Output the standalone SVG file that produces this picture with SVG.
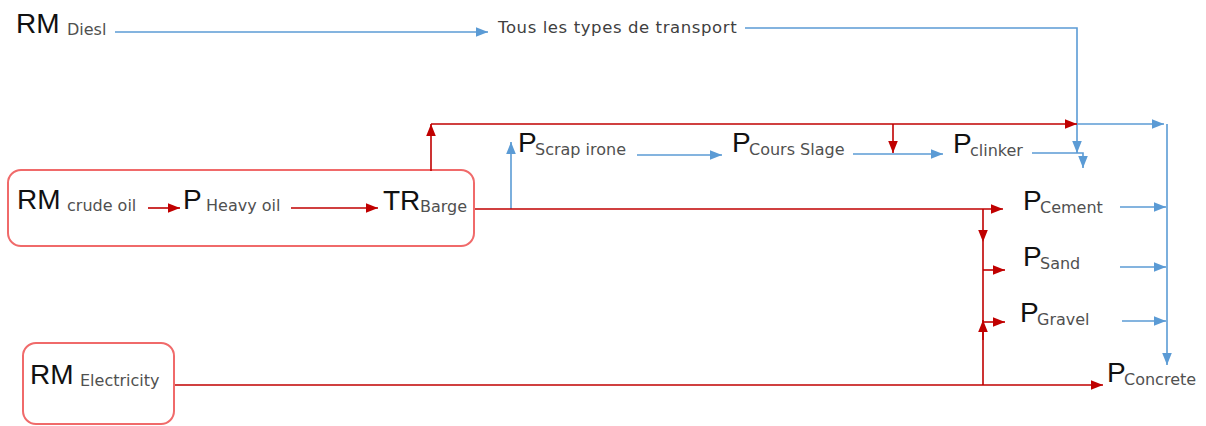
<svg xmlns="http://www.w3.org/2000/svg" width="1206" height="426" viewBox="0 0 1206 426">
<style>
.big{font-family:"Liberation Sans",Arial,sans-serif;font-size:28px;fill:#111}
.sub{font-family:"DejaVu Sans",sans-serif;font-size:16px;fill:#505050}
.lbl{font-family:"DejaVu Sans",sans-serif;font-size:16.5px;letter-spacing:0.6px;fill:#404040}
.box{fill:#fff;stroke:#f06a6a;stroke-width:2}
.b{fill:none;stroke:#5b9bd5;stroke-width:1.6}
.r{fill:none;stroke:#c00000;stroke-width:1.6}
.ba{marker-end:url(#ab)}
.ra{marker-end:url(#ar)}
</style>
<defs>
<marker id="ab" markerUnits="userSpaceOnUse" markerWidth="12" markerHeight="12" viewBox="0 0 10 10" refX="10" refY="5" orient="auto">
<path d="M0,1 L10,5 L0,9 Z" fill="#5b9bd5"/>
</marker>
<marker id="ar" markerUnits="userSpaceOnUse" markerWidth="12" markerHeight="12" viewBox="0 0 10 10" refX="10" refY="5" orient="auto">
<path d="M0,1 L10,5 L0,9 Z" fill="#c00000"/>
</marker>
</defs>
<g id="crude-group">
<rect class="box" x="8" y="170" width="466" height="76" rx="13"/>
<g id="rm-crude"><text class="big" x="17" y="209">RM</text><text class="sub" x="67" y="211">crude oil</text></g>
<g id="p-heavy"><text class="big" x="183" y="209">P</text><text class="sub" x="206" y="211">Heavy oil</text></g>
<g id="tr-barge"><text class="big" x="383" y="210">TR</text><text class="sub" x="420" y="212">Barge</text></g>
</g>
<g id="rm-electricity">
<rect class="box" x="23" y="343" width="151" height="81" rx="13"/>
<text class="big" x="30" y="384">RM</text><text class="sub" x="80" y="386">Electricity</text>
</g>
<g id="connectors">
<path class="b ba" d="M115,32 H488"/>
<path class="b ba" d="M745,28 H1077 V153"/>
<path class="b ba" d="M1077,124 H1164"/>
<path class="b ba" d="M1167,124 V365"/>
<path class="b ba" d="M511,209 V142"/>
<path class="b ba" d="M637,155 H722"/>
<path class="b ba" d="M853,154 H943"/>
<path class="b ba" d="M1032,153 H1083 V168"/>
<path class="b ba" d="M1120,207 H1166"/>
<path class="b ba" d="M1120,267 H1166"/>
<path class="b ba" d="M1122,321 H1166"/>
<path class="r ra" d="M431,171 V124"/>
<path class="r ra" d="M431,124 H1077"/>
<path class="r ra" d="M893,124 V153"/>
<path class="r ra" d="M148,208 H180"/>
<path class="r ra" d="M291,208 H378"/>
<path class="r ra" d="M475,209 H1003"/>
<path class="r ra" d="M983,209 V242"/>
<path class="r" d="M983,242 V385"/>
<path class="r ra" d="M983,270 H1005"/>
<path class="r ra" d="M983,322 H1005"/>
<path class="r ra" d="M983,340 V320"/>
<path class="r ra" d="M175,385 H1103"/>
</g>
<g id="rm-diesl"><text class="big" x="16" y="33">RM</text><text class="sub" x="67" y="35">Diesl</text></g>
<g id="transport"><text class="lbl" x="498" y="33">Tous les types de transport</text></g>
<g id="p-scrap"><text class="big" x="518" y="152">P</text><text class="sub" x="535" y="155">Scrap irone</text></g>
<g id="p-cours"><text class="big" x="732" y="152">P</text><text class="sub" x="749" y="155">Cours Slage</text></g>
<g id="p-clinker"><text class="big" x="953" y="153">P</text><text class="sub" x="970" y="156">clinker</text></g>
<g id="p-cement"><text class="big" x="1023" y="210">P</text><text class="sub" x="1040" y="213">Cement</text></g>
<g id="p-sand"><text class="big" x="1023" y="266">P</text><text class="sub" x="1040" y="269">Sand</text></g>
<g id="p-gravel"><text class="big" x="1020" y="322">P</text><text class="sub" x="1037" y="325">Gravel</text></g>
<g id="p-concrete"><text class="big" x="1107" y="382">P</text><text class="sub" x="1124" y="385">Concrete</text></g>
</svg>
